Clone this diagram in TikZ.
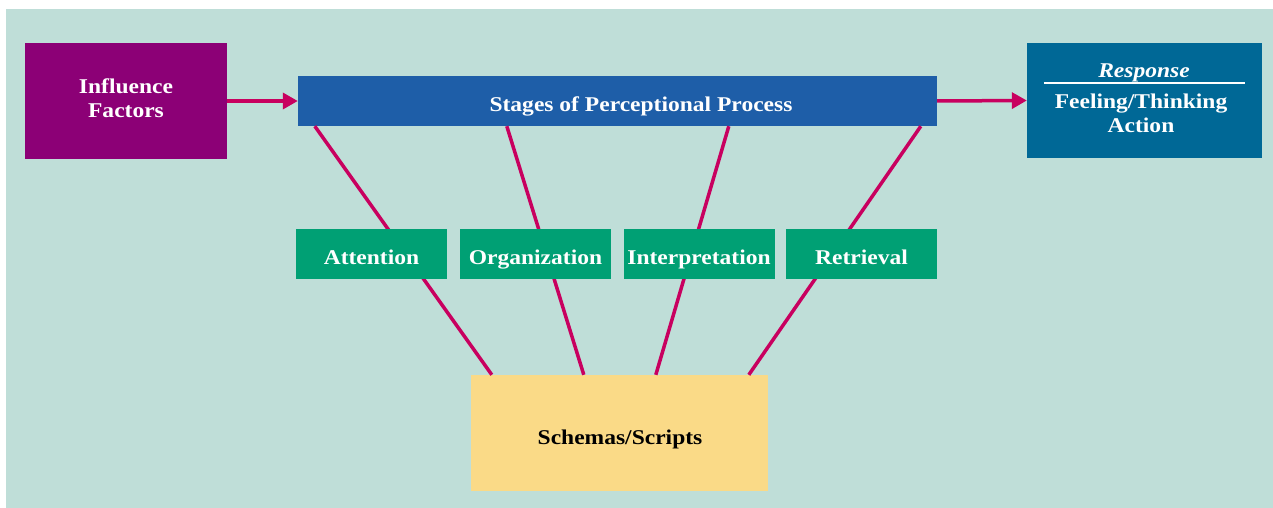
\documentclass[tikz,border=0pt]{standalone}
\usepackage{fontspec}
\setmainfont{Liberation Serif}[FakeStretch=1.12]
\usetikzlibrary{arrows.meta,calc}
\definecolor{bgc}{RGB}{191,222,216}
\definecolor{purp}{RGB}{140,0,118}
\definecolor{stblue}{RGB}{30,94,168}
\definecolor{rsblue}{RGB}{0,104,150}
\definecolor{grn}{RGB}{0,160,116}
\definecolor{yel}{RGB}{250,218,135}
\definecolor{mag}{RGB}{200,0,95}
\tikzset{
  box/.style={rectangle, draw=none, inner sep=0pt, text=white, align=center,
    font=\fontsize{21}{24}\selectfont\bfseries},
  txt/.style={inner sep=0pt, text=white, align=center,
    font=\fontsize{21}{24}\selectfont\bfseries},
  stagebox/.style={box, fill=grn, minimum width=151pt, minimum height=50pt,
    text height=20pt, text depth=0pt},
  conn/.style={draw=mag, line width=3.5pt},
  arr/.style={draw=mag, line width=3.5pt, -{Triangle[length=15pt,width=16pt]}}
}
\begin{document}
\begin{tikzpicture}[x=1pt,y=-1pt]
\useasboundingbox (0,0) rectangle (1273,508);
\fill[bgc] (6,9) rectangle (1273,508);

\node[box, fill=purp, minimum width=202pt, minimum height=116pt] (inf) at (126,101) {};
\node[txt] (inftxt) at (126,98) {Influence\\Factors};
\node[box, fill=stblue, minimum width=639pt, minimum height=50pt] (stages) at (617.5,101) {};
\node[txt] (stagestxt) at (641,106) {Stages of Perceptional Process};
\node[box, fill=rsblue, minimum width=235pt, minimum height=115pt] (resp) at (1144.5,100.5) {};
\node[txt] (resptitle) at (1144,73) {\itshape Response};
\node[txt] (resptxt) at (1141,113) {Feeling/Thinking\\Action};
\draw[white, line width=2pt] ($(resp.north west)+(17,40)$) -- ($(resp.north east)+(-17,40)$);

\node[box, fill=yel, text=black, minimum width=297pt, minimum height=116pt] (schemas) at (619.5,433) {};
\node[txt, text=black] (schemastxt) at (620,439) {Schemas/Scripts};

\draw[conn] ($(stages.south west)+(17,0)$) -- ($(schemas.north west)+(21,0)$);
\draw[conn] ($(stages.south west)+(209,0)$) -- ($(schemas.north west)+(113,0)$);
\draw[conn] ($(stages.south west)+(431,0)$) -- ($(schemas.north west)+(185,0)$);
\draw[conn] ($(stages.south west)+(623,0)$) -- ($(schemas.north west)+(278,0)$);

\node[stagebox] (att) at (371.5,254) {Attention};
\node[stagebox] (org) at (535.5,254) {Organization};
\node[stagebox] (int) at (699,254) {Interpretation};
\node[stagebox] (ret) at (861.5,254) {Retrieval};

\draw[arr] (inf.east) -- (stages.west);
\draw[arr] (stages.east) -- (resp.west);
\end{tikzpicture}
\end{document}
